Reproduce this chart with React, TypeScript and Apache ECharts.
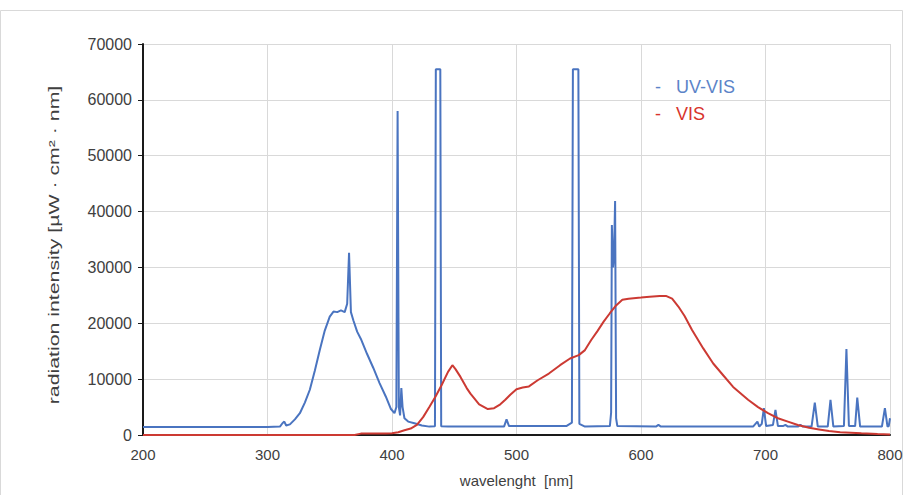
import React, { useEffect, useRef } from "react";
import * as echarts from "echarts";

// Wavelength [nm] / radiation intensity pairs
const uvVisWavelength = [
  200, 250, 300, 310, 312, 313.5, 315, 318, 322, 326, 330, 334, 338, 342, 346, 350, 353, 356, 359, 362, 364, 365.5, 367, 369,
  372, 375, 380, 385, 390, 395, 399, 402, 403.5, 404.5, 405.5, 406.5, 407.5, 408.5, 410, 413, 418, 424, 430, 434.5, 435.2,
  438.8, 439.5, 445, 490, 492, 494, 540, 544.5, 545.3, 549.7, 550.5, 555, 575, 576, 576.6, 577.5, 578.3, 579.2, 580, 581,
  612, 614, 616, 690, 693.5, 695, 697, 698.7, 700.5, 706, 708, 710, 714, 716, 718, 726, 728, 730, 737, 739.6, 742, 750,
  752.2, 754.5, 763, 765, 767, 772, 773.7, 776, 793.5, 795.9, 798, 799, 800,
];
const uvVisIntensity = [
  1450, 1450, 1450, 1500, 2100, 2400, 1700, 1900, 2800, 3900, 5800, 8100, 11500, 15200, 18700, 21200, 22100, 22000, 22300,
  22000, 23500, 32600, 22000, 20500, 18500, 17200, 14500, 12000, 9300, 6900, 4700, 3900, 5000, 58000, 5000, 3500, 8400,
  5000, 3000, 2400, 2100, 1700, 1500, 1550, 65500, 65500, 1550, 1500, 1500, 2800, 1600, 1600, 2200, 65500, 65500, 2000,
  1500, 1600, 4000, 37600, 30000, 32000, 41900, 3000, 1600, 1500, 1800, 1500, 1500, 2400, 1500, 2000, 4800, 1600, 1800,
  4500, 1600, 1600, 1800, 1500, 1500, 1800, 1500, 1500, 5800, 1500, 1500, 6300, 1500, 1600, 15400, 1600, 1600, 6700, 1500,
  1500, 4800, 1500, 1600, 3000,
];

const visWavelength = [
  200, 370, 375, 385, 395, 400, 405, 410, 415, 420, 425, 430, 435, 440, 445, 448.5, 451, 455, 460, 463, 470, 477, 482, 487,
  491, 495, 500, 505, 510, 517, 526, 535, 543, 550, 555, 560, 565, 570, 575, 580, 585, 590, 600, 607, 615, 620, 625, 630,
  635, 641, 650, 658, 666, 674, 686, 694, 702, 710, 718, 726, 735, 743, 751, 760, 777, 790, 800,
];
const visIntensity = [
  0, 0, 250, 250, 250, 300, 500, 850, 1150, 1800, 3200, 5000, 6900, 9000, 11300, 12500, 11800, 10400, 8400, 7400, 5500,
  4650, 4800, 5500, 6300, 7200, 8200, 8500, 8700, 9800, 11000, 12500, 13700, 14300, 15200, 17000, 18600, 20300, 21800,
  23200, 24200, 24400, 24600, 24750, 24900, 24900, 24400, 23000, 21300, 18800, 15500, 12800, 10700, 8600, 6300, 5000, 3900,
  3000, 2400, 1800, 1300, 1000, 700, 500, 300, 180, 100,
];

const seriesNames = ["UV-VIS", "VIS"];
const xAxisTitle = "wavelenght  [nm]";
const yAxisTitle = "radiation intensity [µW · cm² · nm]";

const BLUE = "#4a74c0";
const RED = "#cc3a33";
const TEXT = "#404040";

export default function App() {
  const ref = useRef<HTMLDivElement>(null);
  useEffect(() => {
    if (!ref.current) return;
    const chart = echarts.init(ref.current, undefined, { renderer: "svg" });
    const font = "'Liberation Sans', Arial, sans-serif";
    chart.setOption({
      animation: false,
      backgroundColor: "#ffffff",
      textStyle: { fontFamily: font },
      grid: { left: 143, right: 16, top: 44, bottom: 60, containLabel: false },
      xAxis: {
        type: "value",
        min: 200,
        max: 800,
        interval: 100,
        name: xAxisTitle,
        nameLocation: "middle",
        nameGap: 38,
        nameTextStyle: { color: TEXT, fontSize: 15, fontFamily: font },
        axisLine: { show: true, onZero: false, lineStyle: { color: "#1a1a1a", width: 2 } },
        axisTick: { show: false },
        axisLabel: { color: TEXT, fontSize: 15, margin: 12, fontFamily: font },
        splitLine: { show: true, lineStyle: { color: "#d9d9d9", width: 1 } },
      },
      yAxis: {
        type: "value",
        min: 0,
        max: 70000,
        interval: 10000,
        axisLine: { show: true, lineStyle: { color: "#1a1a1a", width: 2 } },
        axisTick: { show: true, inside: false, length: 5, lineStyle: { color: "#1a1a1a", width: 1 } },
        axisLabel: {
          color: TEXT,
          fontSize: 16,
          margin: 11,
          fontFamily: font,
          formatter: (v: number) => String(v),
        },
        splitLine: { show: true, lineStyle: { color: "#d9d9d9", width: 1 } },
      },
      series: [
        {
          name: seriesNames[0],
          type: "line",
          showSymbol: false,
          data: uvVisWavelength.map((w, i) => [w, uvVisIntensity[i]]),
          lineStyle: { color: BLUE, width: 2 },
          itemStyle: { color: BLUE },
          z: 2,
        },
        {
          name: seriesNames[1],
          type: "line",
          showSymbol: false,
          data: visWavelength.map((w, i) => [w, visIntensity[i]]),
          lineStyle: { color: RED, width: 2 },
          itemStyle: { color: RED },
          z: 3,
        },
      ],
      graphic: [
        {
          type: "rect",
          shape: { x: 0.5, y: 10.5, width: 902, height: 500 },
          style: { fill: "none", stroke: "#d9d9d9", lineWidth: 1 },
          silent: true,
        },
        {
          type: "text",
          x: 54,
          y: 245,
          rotation: Math.PI / 2,
          scaleX: 1.42,
          style: {
            text: yAxisTitle,
            fill: TEXT,
            fontSize: 15,
            fontFamily: font,
            align: "center",
            verticalAlign: "middle",
          },
        },
        {
          type: "text",
          left: 655,
          top: 78,
          style: { text: "-   " + seriesNames[0], fill: "#5b84c8", fontSize: 18, fontFamily: font },
        },
        {
          type: "text",
          left: 655,
          top: 105,
          style: { text: "-   " + seriesNames[1], fill: "#d8342c", fontSize: 18, fontFamily: font },
        },
      ],
    });
    return () => chart.dispose();
  }, []);
  return (
    <div
      ref={ref}
      style={{ position: "fixed", left: 0, top: 0, width: 906, height: 495 }}
    />
  );
}
